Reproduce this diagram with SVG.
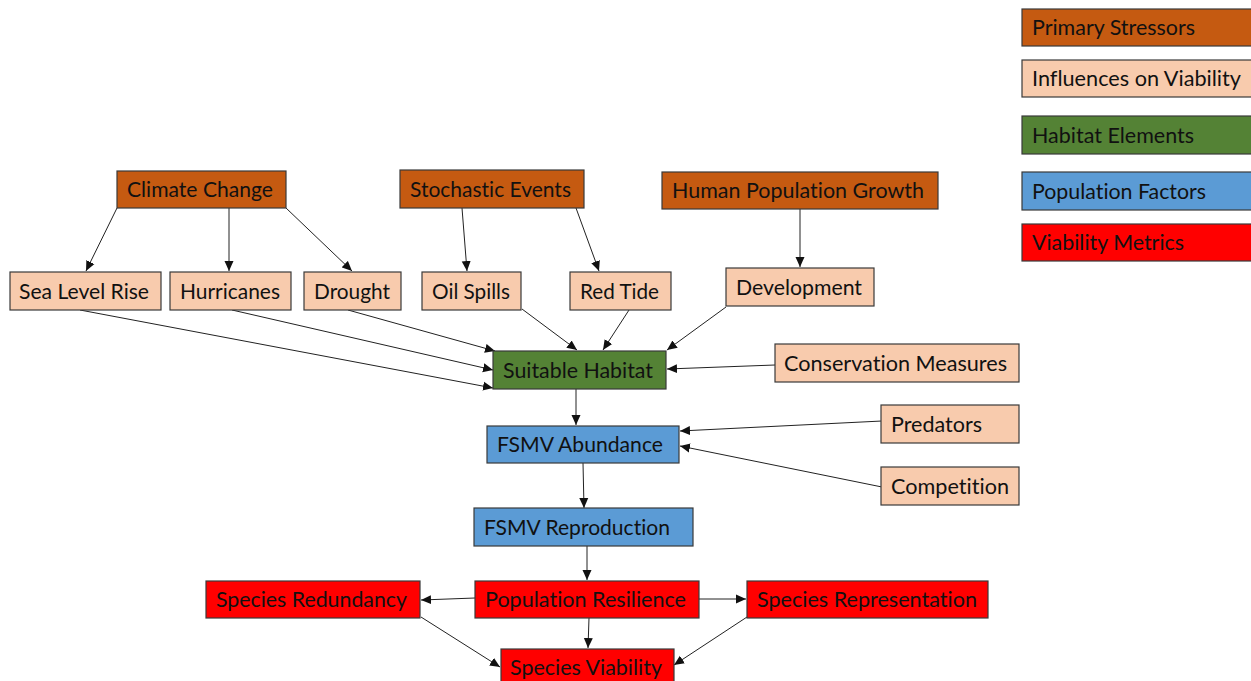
<svg xmlns="http://www.w3.org/2000/svg" width="1251" height="681" viewBox="0 0 1251 681">
<defs>
<style>
.b{stroke:#3a3a3a;stroke-width:1.2}
.ps{fill:#C55A11}.iv{fill:#F8CBAD}.he{fill:#548235}.pf{fill:#5B9BD5}.vm{fill:#FF0000}
text{font-family:Lato,"Liberation Sans",sans-serif;font-size:21.5px;fill:#111;font-variant-ligatures:none}
.c line{stroke:#222;stroke-width:1;marker-end:url(#a)}
</style>
<marker id="a" viewBox="0 0 10 10" refX="10" refY="5" markerWidth="10" markerHeight="10" markerUnits="userSpaceOnUse" orient="auto"><path d="M0,0.5 L10,5 L0,9.5 z" fill="#111"/></marker>
</defs>
<rect width="1251" height="681" fill="#fff"/>
<g id="legend">
<g id="lg-ps"><rect class="b ps" x="1022" y="9" width="240" height="37"/><text x="1032" y="35" textLength="163" lengthAdjust="spacingAndGlyphs">Primary Stressors</text></g>
<g id="lg-iv"><rect class="b iv" x="1022" y="60" width="240" height="37"/><text x="1032" y="86" textLength="209" lengthAdjust="spacingAndGlyphs">Influences on Viability</text></g>
<g id="lg-he"><rect class="b he" x="1022" y="116" width="240" height="38"/><text x="1032" y="143" textLength="162" lengthAdjust="spacingAndGlyphs">Habitat Elements</text></g>
<g id="lg-pf"><rect class="b pf" x="1022" y="172" width="240" height="38"/><text x="1032" y="199" textLength="174" lengthAdjust="spacingAndGlyphs">Population Factors</text></g>
<g id="lg-vm"><rect class="b vm" x="1022" y="224" width="240" height="37"/><text x="1032" y="250" textLength="152" lengthAdjust="spacingAndGlyphs">Viability Metrics</text></g>
</g>
<g class="c" id="connectors">
<line x1="117" y1="208" x2="86" y2="271"/>
<line x1="229" y1="208" x2="229" y2="271"/>
<line x1="286" y1="208" x2="352" y2="271"/>
<line x1="462" y1="208" x2="467" y2="271"/>
<line x1="576" y1="208" x2="599" y2="271"/>
<line x1="800" y1="209" x2="800" y2="267"/>
<line x1="348" y1="310" x2="495" y2="351"/>
<line x1="232" y1="310" x2="493" y2="370"/>
<line x1="80" y1="310" x2="493" y2="388"/>
<line x1="522" y1="309" x2="577" y2="350"/>
<line x1="629" y1="310" x2="603" y2="350"/>
<line x1="726" y1="307" x2="667" y2="350"/>
<line x1="775" y1="365" x2="667" y2="369"/>
<line x1="576" y1="389" x2="576" y2="425"/>
<line x1="882" y1="421" x2="680" y2="431"/>
<line x1="882" y1="487" x2="680" y2="446"/>
<line x1="583" y1="463" x2="584" y2="508"/>
<line x1="587" y1="546" x2="587" y2="580"/>
<line x1="475" y1="598" x2="421" y2="600"/>
<line x1="699" y1="599" x2="746" y2="599"/>
<line x1="589" y1="618" x2="588" y2="648"/>
<line x1="421" y1="617" x2="500" y2="667"/>
<line x1="747" y1="617" x2="674" y2="665"/>
</g>
<g id="n-climate"><rect class="b ps" x="117" y="171" width="169" height="37"/><text x="127" y="197" textLength="146" lengthAdjust="spacingAndGlyphs">Climate Change</text></g>
<g id="n-stochastic"><rect class="b ps" x="400" y="170" width="184" height="38"/><text x="410" y="197" textLength="161" lengthAdjust="spacingAndGlyphs">Stochastic Events</text></g>
<g id="n-human"><rect class="b ps" x="662" y="172" width="276" height="37"/><text x="672" y="198" textLength="252" lengthAdjust="spacingAndGlyphs">Human Population Growth</text></g>
<g id="n-sealevel"><rect class="b iv" x="10" y="272" width="151" height="38"/><text x="19" y="299" textLength="130" lengthAdjust="spacingAndGlyphs">Sea Level Rise</text></g>
<g id="n-hurricanes"><rect class="b iv" x="170" y="272" width="121" height="38"/><text x="180" y="299" textLength="100" lengthAdjust="spacingAndGlyphs">Hurricanes</text></g>
<g id="n-drought"><rect class="b iv" x="304" y="272" width="97" height="38"/><text x="314" y="299" textLength="76" lengthAdjust="spacingAndGlyphs">Drought</text></g>
<g id="n-oil"><rect class="b iv" x="422" y="272" width="99" height="38"/><text x="432" y="299" textLength="78" lengthAdjust="spacingAndGlyphs">Oil Spills</text></g>
<g id="n-redtide"><rect class="b iv" x="570" y="272" width="101" height="38"/><text x="580" y="299" textLength="79" lengthAdjust="spacingAndGlyphs">Red Tide</text></g>
<g id="n-development"><rect class="b iv" x="726" y="268" width="148" height="38"/><text x="736" y="295" textLength="126" lengthAdjust="spacingAndGlyphs">Development</text></g>
<g id="n-habitat"><rect class="b he" x="493" y="351" width="173" height="38"/><text x="503" y="378" textLength="150" lengthAdjust="spacingAndGlyphs">Suitable Habitat</text></g>
<g id="n-conservation"><rect class="b iv" x="775" y="344" width="244" height="38"/><text x="784" y="371" textLength="223" lengthAdjust="spacingAndGlyphs">Conservation Measures</text></g>
<g id="n-predators"><rect class="b iv" x="881" y="405" width="138" height="38"/><text x="891" y="432" textLength="91" lengthAdjust="spacingAndGlyphs">Predators</text></g>
<g id="n-abundance"><rect class="b pf" x="487" y="426" width="192" height="37"/><text x="497" y="452" textLength="166" lengthAdjust="spacingAndGlyphs">FSMV Abundance</text></g>
<g id="n-competition"><rect class="b iv" x="881" y="467" width="138" height="38"/><text x="891" y="494" textLength="118" lengthAdjust="spacingAndGlyphs">Competition</text></g>
<g id="n-reproduction"><rect class="b pf" x="474" y="508" width="219" height="38"/><text x="484" y="535" textLength="186" lengthAdjust="spacingAndGlyphs">FSMV Reproduction</text></g>
<g id="n-redundancy"><rect class="b vm" x="206" y="581" width="214" height="37"/><text x="216" y="607" textLength="191" lengthAdjust="spacingAndGlyphs">Species Redundancy</text></g>
<g id="n-resilience"><rect class="b vm" x="475" y="581" width="224" height="37"/><text x="485" y="607" textLength="201" lengthAdjust="spacingAndGlyphs">Population Resilience</text></g>
<g id="n-representation"><rect class="b vm" x="747" y="581" width="241" height="37"/><text x="757" y="607" textLength="220" lengthAdjust="spacingAndGlyphs">Species Representation</text></g>
<g id="n-viability"><rect class="b vm" x="501" y="649" width="173" height="40"/><text x="510" y="675" textLength="152" lengthAdjust="spacingAndGlyphs">Species Viability</text></g>
</svg>
